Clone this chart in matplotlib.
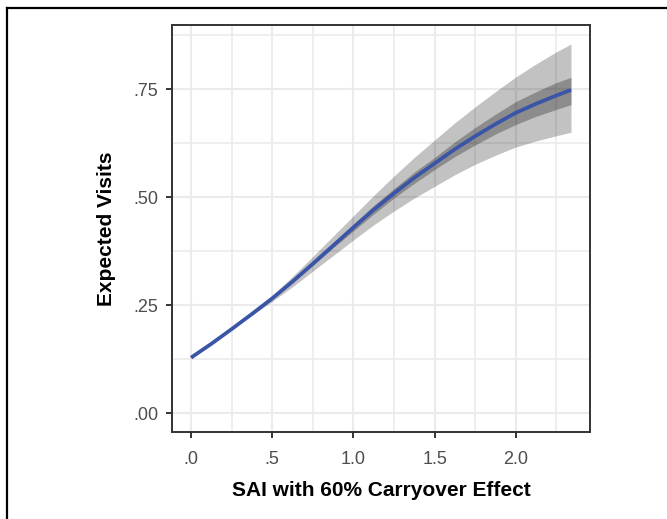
import matplotlib

matplotlib.use("Agg")
import matplotlib.pyplot as plt  # noqa: E402
from matplotlib.lines import Line2D  # noqa: E402

plt.rcParams["font.family"] = ["Liberation Sans", "DejaVu Sans"]

# values
sai = [0.0, 0.125, 0.25, 0.375, 0.5, 0.625, 0.75, 0.875, 1.0, 1.125,
       1.25, 1.375, 1.5, 1.625, 1.75, 1.875, 2.0, 2.125, 2.25, 2.34]
fit = [0.129, 0.161, 0.195, 0.230, 0.266, 0.305, 0.346, 0.388, 0.430, 0.471,
       0.509, 0.545, 0.578, 0.611, 0.641, 0.669, 0.695, 0.716, 0.735, 0.748]
outer_lo = [0.129, 0.161, 0.194, 0.227, 0.259, 0.293, 0.329, 0.365, 0.401, 0.436,
            0.468, 0.498, 0.525, 0.552, 0.576, 0.597, 0.616, 0.630, 0.642, 0.650]
outer_hi = [0.129, 0.161, 0.196, 0.233, 0.273, 0.317, 0.363, 0.410, 0.457, 0.504,
            0.549, 0.592, 0.632, 0.672, 0.709, 0.744, 0.778, 0.808, 0.836, 0.854]
inner_lo = [0.129, 0.161, 0.195, 0.230, 0.264, 0.302, 0.342, 0.383, 0.422, 0.461,
            0.498, 0.532, 0.564, 0.594, 0.621, 0.646, 0.668, 0.687, 0.703, 0.714]
inner_hi = [0.129, 0.161, 0.195, 0.230, 0.268, 0.308, 0.350, 0.393, 0.438, 0.481,
            0.520, 0.558, 0.592, 0.628, 0.661, 0.692, 0.721, 0.744, 0.765, 0.777]

x_ticks = [0.0, 0.5, 1.0, 1.5, 2.0]
x_tick_labels = [".0", ".5", "1.0", "1.5", "2.0"]
y_ticks = [0.0, 0.25, 0.5, 0.75]
y_tick_labels = [".00", ".25", ".50", ".75"]

fig = plt.figure(figsize=(6.67, 5.19), dpi=100)
ax = fig.add_axes([172 / 667, 1 - 432 / 519, 418 / 667, 407 / 519])

ax.fill_between(sai, outer_lo, outer_hi, color="black", alpha=0.24, linewidth=0, zorder=2)
ax.fill_between(sai, inner_lo, inner_hi, color="black", alpha=0.28, linewidth=0, zorder=3)
ax.plot(sai, fit, color="#3a55a8", linewidth=2.7, solid_capstyle="butt",
        solid_joinstyle="round", zorder=4)

ax.set_xlim(-0.117, 2.457)
ax.set_ylim(-0.0428, 0.898)
ax.set_xticks(x_ticks)
ax.set_xticklabels(x_tick_labels)
ax.set_yticks(y_ticks)
ax.set_yticklabels(y_tick_labels)
ax.set_xticks([0.25, 0.75, 1.25, 1.75, 2.25], minor=True)
ax.set_yticks([0.125, 0.375, 0.625, 0.875], minor=True)

ax.set_axisbelow(True)
ax.grid(which="major", color="#ebebeb", linewidth=1.5, zorder=0)
ax.grid(which="minor", color="#ebebeb", linewidth=1.2, zorder=0)
for side in ax.spines.values():
    side.set_color("#333333")
    side.set_linewidth(1.4)

ax.tick_params(which="major", length=4, width=1.4, color="#333333",
               labelsize=13, labelcolor="#4d4d4d")
ax.tick_params(axis="x", which="major", pad=9.5)
ax.tick_params(axis="y", which="major", pad=6)
ax.tick_params(which="minor", length=0)

ax.set_xlabel("SAI with 60% Carryover Effect", fontsize=15, fontweight="bold", labelpad=9.5)
ax.set_ylabel("Expected Visits", fontsize=15, fontweight="bold", labelpad=12)

# partial outer frame visible at the top-left of the reference
fig.add_artist(Line2D([7 / 667, 7 / 667], [0, 1 - 8 / 519], transform=fig.transFigure,
                      color="black", linewidth=1.6))
fig.add_artist(Line2D([7 / 667, 1], [1 - 8 / 519, 1 - 8 / 519], transform=fig.transFigure,
                      color="black", linewidth=1.6))

fig.savefig("out.png", dpi=100)
